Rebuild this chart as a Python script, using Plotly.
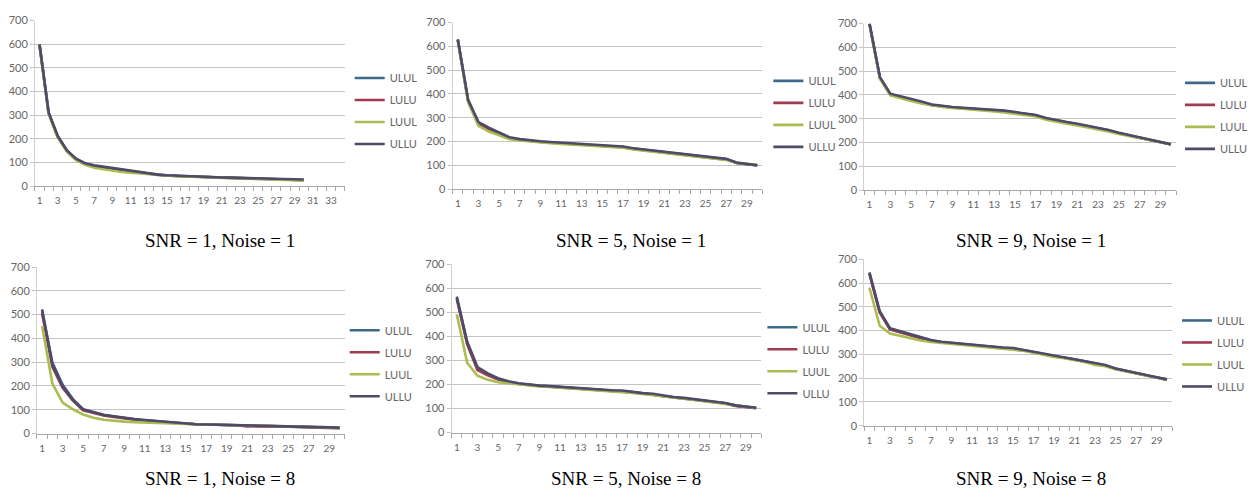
import plotly.graph_objects as go

W, H = 1253, 497

series_names = ["ULUL", "LULU", "LUUL", "ULLU"]
series_colors = ["#3e6a8a", "#a03a4e", "#a9bd50", "#4e4b68"]

# Ranked component index (x categories)
points_30 = list(range(1, 31))
axis_cats_wide = list(range(1, 35))   # first panel's axis runs to 34
axis_cats_std = list(range(1, 31))
y_ticks = [0, 100, 200, 300, 400, 500, 600, 700]

# SNR = 1, Noise = 1
s1n1_ulul = [598, 310, 210, 150, 115, 95, 85, 79, 73, 68, 63, 58, 53, 47, 45, 43, 42, 40, 38, 37, 36, 35, 34, 33, 33, 32, 31, 29, 27, 26]
s1n1_lulu = [597, 308, 208, 149, 114, 94, 84, 78, 72, 67, 62, 58, 53, 47, 45, 43, 42, 40, 38, 37, 36, 35, 34, 33, 32, 31, 30, 28, 26, 25]
s1n1_luul = [595, 305, 205, 146, 110, 90, 78, 71, 65, 60, 57, 54, 50, 46, 44, 42, 41, 39, 37, 36, 35, 34, 33, 32, 31, 30, 29, 27, 25, 24]
s1n1_ullu = [600, 312, 212, 152, 116, 97, 88, 82, 77, 71, 66, 61, 55, 49, 46, 44, 43, 41, 39, 38, 37, 36, 35, 34, 34, 33, 32, 31, 30, 28]

# SNR = 5, Noise = 1
s5n1_ulul = [628, 372, 278, 254, 234, 215, 208, 202, 199, 196, 193, 191, 188, 185, 182, 179, 177, 170, 165, 160, 155, 150, 146, 141, 136, 132, 125, 110, 104, 99]
s5n1_lulu = [627, 370, 276, 252, 232, 214, 207, 201, 198, 195, 192, 190, 187, 184, 181, 178, 176, 169, 164, 159, 154, 149, 145, 140, 135, 131, 124, 110, 105, 100]
s5n1_luul = [625, 365, 266, 242, 226, 210, 205, 200, 196, 193, 190, 188, 185, 182, 179, 176, 174, 167, 162, 157, 152, 148, 144, 139, 134, 130, 123, 111, 107, 102]
s5n1_ullu = [630, 375, 282, 258, 238, 218, 210, 204, 201, 198, 195, 193, 190, 187, 184, 181, 179, 172, 167, 162, 157, 152, 148, 143, 138, 134, 127, 112, 106, 100]

# SNR = 9, Noise = 1
s9n1_ulul = [698, 472, 402, 392, 381, 369, 358, 351, 347, 344, 341, 339, 336, 332, 326, 320, 314, 301, 291, 284, 277, 269, 261, 251, 239, 229, 221, 211, 202, 192]
s9n1_lulu = [698, 471, 401, 391, 380, 368, 357, 351, 347, 344, 341, 338, 335, 331, 325, 319, 313, 300, 290, 283, 276, 268, 259, 250, 238, 229, 221, 211, 202, 193]
s9n1_luul = [696, 468, 398, 388, 375, 364, 355, 349, 345, 342, 338, 335, 331, 326, 320, 315, 309, 296, 286, 279, 272, 264, 253, 246, 236, 227, 219, 210, 201, 193]
s9n1_ullu = [700, 475, 405, 395, 384, 372, 360, 353, 349, 346, 343, 341, 338, 334, 328, 322, 316, 303, 293, 286, 279, 271, 263, 253, 241, 231, 223, 213, 203, 193]

# SNR = 1, Noise = 8
s1n8_ulul = [515, 298, 205, 145, 100, 88, 78, 72, 65, 60, 56, 52, 48, 44, 41, 39, 38, 37, 36, 35, 34, 33, 32, 31, 30, 29, 28, 26, 25, 24]
s1n8_lulu = [505, 280, 192, 138, 98, 86, 76, 70, 63, 58, 54, 50, 47, 43, 41, 39, 38, 37, 36, 35, 30, 32, 31, 30, 30, 29, 27, 25, 23, 22]
s1n8_luul = [452, 210, 130, 102, 80, 66, 58, 53, 50, 48, 46, 44, 42, 41, 40, 39, 38, 37, 36, 35, 34, 33, 32, 31, 30, 29, 28, 27, 26, 25]
s1n8_ullu = [522, 292, 200, 142, 102, 89, 79, 73, 66, 61, 57, 53, 49, 44, 41, 39, 38, 37, 36, 35, 34, 33, 32, 32, 31, 30, 29, 27, 26, 25]

# SNR = 5, Noise = 8
s5n8_ulul = [560, 372, 262, 240, 222, 210, 203, 197, 194, 192, 189, 186, 183, 182, 178, 175, 173, 168, 163, 159, 152, 147, 143, 138, 132, 127, 122, 112, 107, 102]
s5n8_lulu = [555, 368, 260, 238, 220, 209, 202, 197, 194, 191, 188, 185, 182, 181, 177, 174, 172, 167, 162, 158, 151, 146, 142, 137, 131, 126, 121, 111, 106, 101]
s5n8_luul = [492, 290, 236, 219, 209, 204, 200, 196, 192, 190, 187, 184, 181, 180, 175, 171, 169, 165, 160, 156, 150, 145, 141, 136, 130, 125, 120, 111, 107, 102]
s5n8_ullu = [565, 378, 272, 246, 226, 213, 205, 199, 195, 193, 190, 187, 184, 183, 179, 176, 175, 169, 164, 161, 153, 148, 144, 139, 133, 128, 123, 113, 108, 103]

# SNR = 9, Noise = 8
s9n8_ulul = [640, 478, 406, 395, 381, 369, 358, 352, 348, 343, 337, 335, 332, 328, 325, 318, 310, 301, 292, 287, 279, 271, 262, 253, 240, 230, 222, 212, 203, 194]
s9n8_lulu = [638, 476, 405, 394, 380, 368, 357, 351, 347, 342, 337, 334, 331, 327, 324, 317, 309, 300, 291, 286, 278, 270, 261, 252, 239, 229, 221, 211, 203, 194]
s9n8_luul = [580, 420, 388, 378, 367, 358, 352, 348, 345, 341, 336, 333, 329, 325, 321, 315, 307, 298, 289, 284, 276, 268, 256, 250, 238, 229, 221, 211, 202, 193]
s9n8_ullu = [645, 482, 410, 398, 384, 371, 360, 353, 349, 344, 338, 336, 333, 329, 327, 319, 311, 302, 293, 288, 280, 272, 264, 255, 241, 231, 223, 213, 204, 195]

captions = [
    "SNR = 1, Noise = 1", "SNR = 5, Noise = 1", "SNR = 9, Noise = 1",
    "SNR = 1, Noise = 8", "SNR = 5, Noise = 8", "SNR = 9, Noise = 8",
]
panel_series = [
    [s1n1_ulul, s1n1_lulu, s1n1_luul, s1n1_ullu],
    [s5n1_ulul, s5n1_lulu, s5n1_luul, s5n1_ullu],
    [s9n1_ulul, s9n1_lulu, s9n1_luul, s9n1_ullu],
    [s1n8_ulul, s1n8_lulu, s1n8_luul, s1n8_ullu],
    [s5n8_ulul, s5n8_lulu, s5n8_luul, s5n8_ullu],
    [s9n8_ulul, s9n8_lulu, s9n8_luul, s9n8_ullu],
]
panel_axis_cats = [axis_cats_wide, axis_cats_std, axis_cats_std,
                   axis_cats_std, axis_cats_std, axis_cats_std]

# Layout geometry in pixels: plot box (left, right, top=700 line, bottom=0 line),
# legend anchor (x, y) and caption centre (x, y)
boxes = [
    (35, 345, 14, 184), (453, 763, 16, 187), (865, 1177, 17, 188),
    (37, 345, 267, 438), (452, 762, 264, 437), (865, 1173, 259, 430),
]
legend_pos = [(350, 58), (769, 61), (1181, 63), (345, 317), (763, 314), (1178, 307)]
caption_pos = [(220, 240), (632, 240), (1032, 240), (220, 484), (627, 484), (1032, 484)]

GRID = "#c4c4c4"
TICKTXT = "#666666"

fig = go.Figure()
layout = dict(
    width=W, height=H, margin=dict(l=0, r=0, t=0, b=0),
    paper_bgcolor="white", plot_bgcolor="white", showlegend=True,
    font=dict(family="Lato, Liberation Sans, sans-serif", color=TICKTXT),
)

annotations = []
for i in range(6):
    k = "" if i == 0 else str(i + 1)
    left, right, top, bottom = boxes[i]
    cats = panel_axis_cats[i]
    for j, name in enumerate(series_names):
        fig.add_trace(go.Scatter(
            x=points_30, y=panel_series[i][j], name=name, mode="lines",
            line=dict(color=series_colors[j], width=2.6),
            xaxis="x" + k, yaxis="y" + k, legend="legend" + k,
            legendgroup=f"p{i}_{name}",
        ))
    layout["xaxis" + k] = dict(
        domain=[left / W, right / W], anchor="y" + k,
        range=[0.5, len(cats) + 0.5], tickmode="array",
        tickvals=cats[::2], ticktext=[str(c) for c in cats[::2]],
        ticks="", showgrid=False, zeroline=False,
        showline=True, linecolor="#a8a8a8", linewidth=1,
        tickfont=dict(size=10, color=TICKTXT), ticklabelstandoff=5,
        minor=dict(tickmode="array", tickvals=[c + 0.5 for c in [0] + cats],
                   ticks="outside", ticklen=4, tickcolor="#a8a8a8"),
        fixedrange=True,
    )
    layout["yaxis" + k] = dict(
        domain=[1 - bottom / H, 1 - top / H], anchor="x" + k,
        range=[0, 700], tickmode="array", tickvals=y_ticks,
        showgrid=True, gridcolor=GRID, gridwidth=1, zeroline=False,
        showline=True, linecolor="#d0d0d0", linewidth=1,
        ticks="outside", ticklen=4, tickcolor=GRID,
        tickfont=dict(size=11, color=TICKTXT), fixedrange=True,
    )
    lx, ly = legend_pos[i]
    layout["legend" + k] = dict(
        x=lx / W, y=1 - ly / H, xanchor="left", yanchor="top",
        xref="paper", yref="paper", bgcolor="rgba(0,0,0,0)",
        font=dict(size=11, color=TICKTXT), tracegroupgap=3,
        itemwidth=30, itemclick=False, itemdoubleclick=False,
    )
    cx, cy = caption_pos[i]
    annotations.append(dict(
        text=captions[i], x=cx / W, y=1 - cy / H, xref="paper", yref="paper",
        xanchor="center", yanchor="middle", showarrow=False,
        font=dict(family="Liberation Serif, Times New Roman, serif", size=19, color="black"),
    ))

layout["annotations"] = annotations
fig.update_layout(**layout)
fig.write_html("out.html")
